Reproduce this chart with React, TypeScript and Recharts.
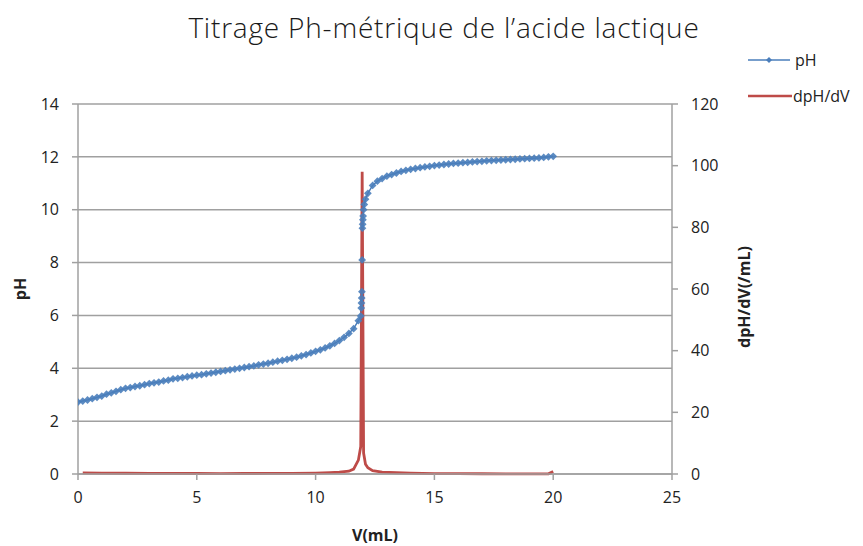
import React from 'react';
import { ComposedChart, Line, XAxis, YAxis, CartesianGrid, Legend, Label } from 'recharts';

// Volumes de soude versés (mL) et pH lus
const volumes = [
  0, 0.2, 0.4, 0.6, 0.8, 1, 1.2, 1.4, 1.6, 1.8,
  2, 2.2, 2.4, 2.6, 2.8, 3, 3.2, 3.4, 3.6, 3.8,
  4, 4.2, 4.4, 4.6, 4.8, 5, 5.2, 5.4, 5.6, 5.8,
  6, 6.2, 6.4, 6.6, 6.8, 7, 7.2, 7.4, 7.6, 7.8,
  8, 8.2, 8.4, 8.6, 8.8, 9, 9.2, 9.4, 9.6, 9.8,
  10, 10.2, 10.4, 10.6, 10.8, 11, 11.2, 11.4, 11.6, 11.8,
  11.9, 11.92, 11.93, 11.94, 11.95, 11.96, 11.97, 11.98, 11.99, 12, 12.02, 12.05, 12.1,
  12.2, 12.4, 12.6, 12.8, 13, 13.2, 13.4, 13.6, 13.8, 14,
  14.2, 14.4, 14.6, 14.8, 15, 15.2, 15.4, 15.6, 15.8, 16,
  16.2, 16.4, 16.6, 16.8, 17, 17.2, 17.4, 17.6, 17.8, 18,
  18.2, 18.4, 18.6, 18.8, 19, 19.2, 19.4, 19.6, 19.8, 20,
];

const phValues = [
  2.72, 2.76, 2.8, 2.85, 2.9, 2.95, 3.02, 3.07, 3.13, 3.19,
  3.24, 3.27, 3.31, 3.34, 3.38, 3.42, 3.45, 3.48, 3.52, 3.55,
  3.6, 3.62, 3.65, 3.68, 3.71, 3.74, 3.76, 3.79, 3.82, 3.85,
  3.88, 3.91, 3.94, 3.97, 4.0, 4.03, 4.06, 4.09, 4.13, 4.16,
  4.19, 4.23, 4.27, 4.3, 4.34, 4.38, 4.42, 4.47, 4.52, 4.58,
  4.64, 4.7, 4.77, 4.85, 4.94, 5.05, 5.17, 5.32, 5.5, 5.8,
  5.98, 6.28, 6.47, 6.66, 6.9, 8.1, 9.3, 9.45, 9.62, 9.76, 10.0, 10.2, 10.4,
  10.62, 10.92, 11.08, 11.18, 11.27, 11.33, 11.39, 11.45, 11.49, 11.53,
  11.56, 11.59, 11.62, 11.64, 11.67, 11.69, 11.71, 11.73, 11.75, 11.76,
  11.78, 11.79, 11.81, 11.82, 11.83, 11.85, 11.86, 11.87, 11.88, 11.89,
  11.9, 11.91, 11.92, 11.93, 11.94, 11.95, 11.96, 11.98, 12.0, 12.02,
];

// dérivée dpH/dV
const derivVolumes = [
  0.2, 1, 2, 3, 4, 5, 6, 7, 8, 9, 10, 10.6, 11, 11.4, 11.6, 11.8, 11.9,
  11.96, 12.02, 12.1, 12.2, 12.4, 12.8, 13.4, 14, 15, 16, 17, 18, 19, 19.8, 20,
];
const derivValues = [
  0.35, 0.3, 0.25, 0.2, 0.18, 0.16, 0.15, 0.16, 0.18, 0.22, 0.3, 0.45, 0.6, 0.9, 1.6, 4.5, 8.9,
  98, 6.8, 3.2, 2.0, 1.1, 0.6, 0.4, 0.3, 0.15, 0.12, 0.08, 0.06, 0.05, 0.05, 0.8,
];

const xTicks = [0, 5, 10, 15, 20, 25];
const phTicks = [0, 2, 4, 6, 8, 10, 12, 14];
const derivTicks = [0, 20, 40, 60, 80, 100, 120];

const phData = volumes.map((v, i) => ({ v, ph: phValues[i] }));
const derivData = derivVolumes.map((v, i) => ({ v, d: derivValues[i] }));

const BLUE = '#4a7ebb';
const RED = '#be4b48';
const GRID = '#a0a0a0';
const FONT = '"Open Sans", sans-serif';

const diamond = (cx: number, cy: number, s: number) =>
  `M${cx},${cy - s} L${cx + s},${cy} L${cx},${cy + s} L${cx - s},${cy} Z`;

const PhDot = (props: any) => {
  const { cx, cy, index } = props;
  if (cx == null || cy == null) return <g key={`d${index}`} />;
  return <path key={`d${index}`} d={diamond(cx, cy, 3.9)} fill={BLUE} fillOpacity={0.9} />;
};

const LegendBox = () => (
  <div style={{ fontFamily: FONT, fontSize: 16, color: '#222' }}>
    <div style={{ display: 'flex', alignItems: 'center', height: 22 }}>
      <svg width={44} height={10}>
        <line x1={0} y1={5} x2={42} y2={5} stroke={BLUE} strokeWidth={1.5} />
        <path d={diamond(21, 5, 3)} fill={BLUE} />
      </svg>
      <span style={{ marginLeft: 3 }}>pH</span>
    </div>
    <div style={{ display: 'flex', alignItems: 'center', height: 22, marginTop: 14 }}>
      <svg width={44} height={10}>
        <line x1={0} y1={5} x2={44} y2={5} stroke={RED} strokeWidth={2.5} />
      </svg>
      <span style={{ marginLeft: 1 }}>dpH/dV</span>
    </div>
  </div>
);

export default function App() {
  return (
    <div style={{ position: 'absolute', left: 0, top: 0, width: 863, height: 546, background: '#fff' }}>
      <div
        style={{
          position: 'absolute', top: 8, left: 444, transform: 'translateX(-50%)', whiteSpace: 'nowrap',
          fontFamily: FONT, fontWeight: 300, fontSize: 28, letterSpacing: 0.8, color: '#1a1a1a',
        }}
      >
        Titrage Ph-métrique de l’acide lactique
      </div>
      <ComposedChart width={863} height={546} margin={{ top: 104, right: 91, bottom: 32, left: 28 }}>
        <CartesianGrid yAxisId="left" vertical={false} stroke={GRID} strokeWidth={1.5} />
        <XAxis
          type="number"
          dataKey="v"
          domain={[0, 25]}
          ticks={xTicks}
          height={40}
          axisLine={{ stroke: GRID, strokeWidth: 1.5 }}
          tickLine={{ stroke: GRID, strokeWidth: 1.5 }}
          tickSize={6}
          tickMargin={12}
          tick={{ fontFamily: FONT, fontSize: 16, fill: '#222' }}
          allowDataOverflow
        >
          <Label
            content={({ viewBox }: any) => (
              <text
                x={viewBox.x + viewBox.width / 2}
                y={viewBox.y + 67}
                textAnchor="middle"
                fontFamily={FONT}
                fontWeight={700}
                fontSize={16}
                fill="#222"
              >
                V(mL)
              </text>
            )}
          />
        </XAxis>
        <YAxis
          yAxisId="left"
          domain={[0, 14]}
          ticks={phTicks}
          width={50}
          axisLine={{ stroke: GRID, strokeWidth: 1.5 }}
          tickLine={{ stroke: GRID, strokeWidth: 1.5 }}
          tickSize={6}
          tickMargin={13}
          tick={{ fontFamily: FONT, fontSize: 16, fill: '#222' }}
        >
          <Label
            content={({ viewBox }: any) => {
              const cx = 20;
              const cy = viewBox.y + viewBox.height / 2;
              return (
                <text
                  x={cx}
                  y={cy}
                  transform={`rotate(-90 ${cx} ${cy})`}
                  textAnchor="middle"
                  dominantBaseline="central"
                  fontFamily={FONT}
                  fontWeight={700}
                  fontSize={16}
                  fill="#222"
                >
                  pH
                </text>
              );
            }}
          />
        </YAxis>
        <YAxis
          yAxisId="right"
          orientation="right"
          domain={[0, 120]}
          ticks={derivTicks}
          width={100}
          axisLine={{ stroke: GRID, strokeWidth: 1.5 }}
          tickLine={{ stroke: GRID, strokeWidth: 1.5 }}
          tickSize={6}
          tickMargin={13}
          tick={{ fontFamily: FONT, fontSize: 16, fill: '#222' }}
        >
          <Label
            content={({ viewBox }: any) => {
              const cx = 744;
              const cy = viewBox.y + viewBox.height / 2 + 8;
              return (
                <text
                  x={cx}
                  y={cy}
                  transform={`rotate(-90 ${cx} ${cy})`}
                  textAnchor="middle"
                  dominantBaseline="central"
                  fontFamily={FONT}
                  fontWeight={700}
                  fontSize={16}
                  fill="#222"
                >
                  dpH/dV(/mL)
                </text>
              );
            }}
          />
        </YAxis>
        <Legend
          layout="horizontal"
          align="center"
          verticalAlign="middle"
          content={() => <LegendBox />}
          wrapperStyle={{ top: 49, left: 748, width: 115, height: 80 }}
        />
        <Line
          yAxisId="left"
          data={phData}
          dataKey="ph"
          name="pH"
          type="linear"
          stroke={BLUE}
          strokeWidth={1.5}
          dot={PhDot}
          activeDot={false}
          isAnimationActive={false}
        />
        <Line
          yAxisId="right"
          data={derivData}
          dataKey="d"
          name="dpH/dV"
          type="linear"
          stroke={RED}
          strokeWidth={2.8}
          dot={false}
          activeDot={false}
          isAnimationActive={false}
        />
      </ComposedChart>
    </div>
  );
}
